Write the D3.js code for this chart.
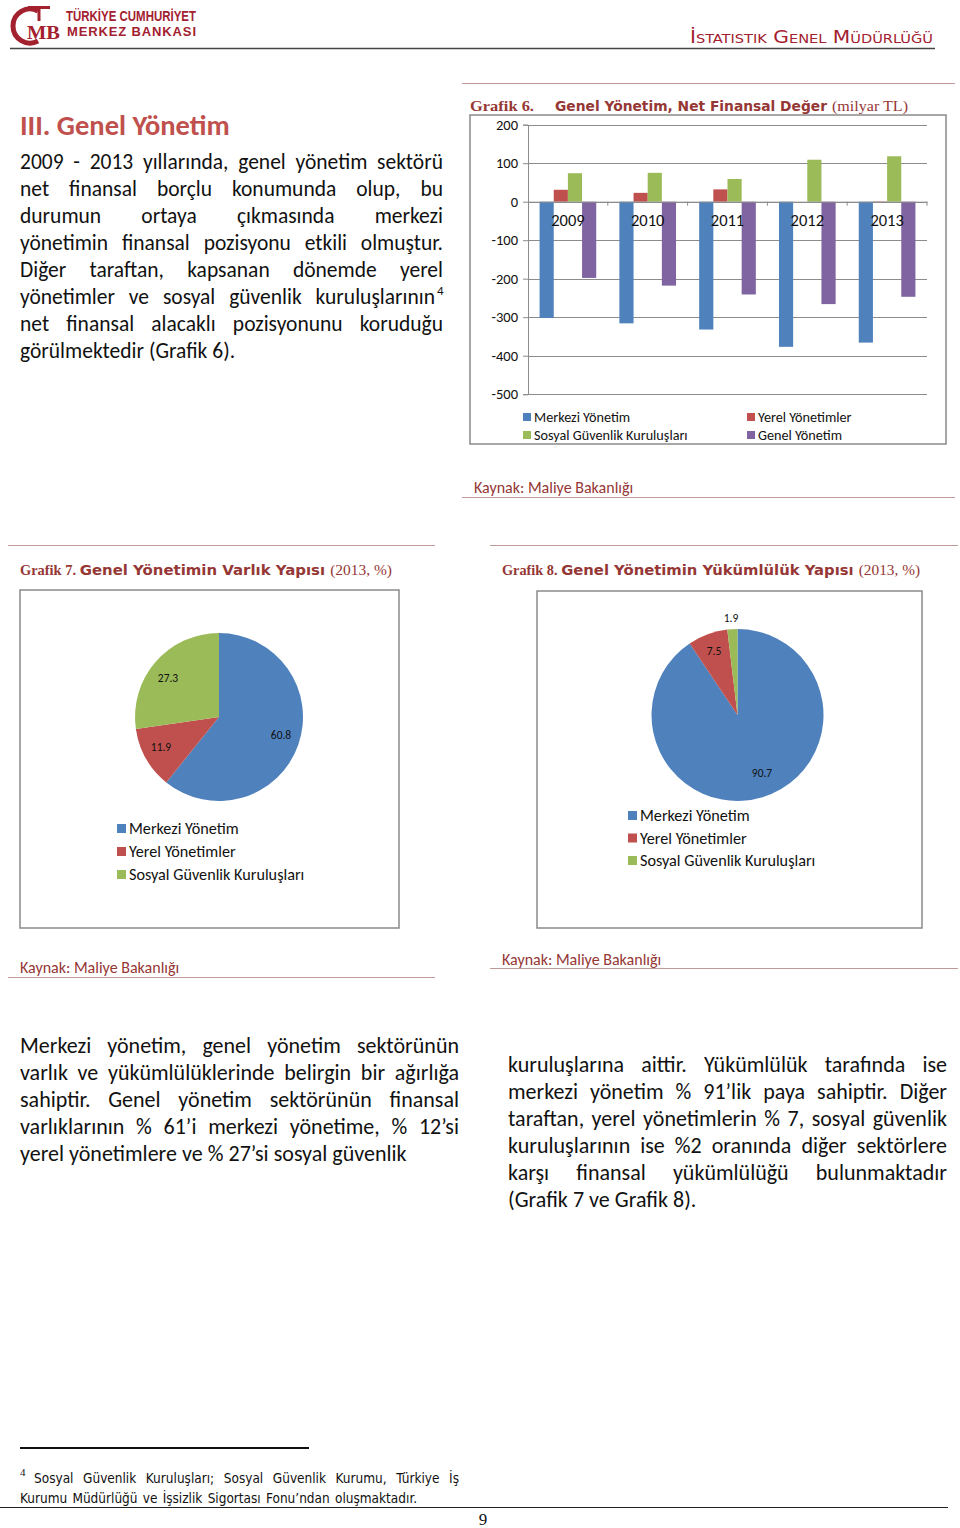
<!DOCTYPE html>
<html><head><meta charset="utf-8">
<script src="https://cdn.jsdelivr.net/npm/d3@7/dist/d3.min.js"></script>
<style>
html,body{margin:0;padding:0;background:#fff;}
svg{display:block;}
</style></head>
<body>
<svg id="page" width="960" height="1528"></svg>
<script>
// ---------------- DATA ----------------
const years = ["2009", "2010", "2011", "2012", "2013"];
const barSeries = ["Merkezi Yönetim", "Yerel Yönetimler", "Sosyal Güvenlik Kuruluşları", "Genel Yönetim"];
const merkezi = [-302, -316, -332, -377, -366];
const yerel = [31, 23, 32, 0, 1];
const sosyal = [74, 75, 59, 109, 118];
const genel = [-198, -218, -241, -266, -247];
const yTicks = [200, 100, 0, -100, -200, -300, -400, -500];

const pieSeries = ["Merkezi Yönetim", "Yerel Yönetimler", "Sosyal Güvenlik Kuruluşları"];
const varlik = [60.8, 11.9, 27.3];
const yukumluluk = [90.7, 7.5, 1.9];

const colors = ["#4F81BD", "#C0504D", "#9BBB59", "#8064A2"];

const para1 = [
  "2009 - 2013 yıllarında, genel yönetim sektörü",
  "net finansal borçlu konumunda olup, bu",
  "durumun ortaya çıkmasında merkezi",
  "yönetimin finansal pozisyonu etkili olmuştur.",
  "Diğer taraftan, kapsanan dönemde yerel",
  "yönetimler ve sosyal güvenlik kuruluşlarının",
  "net finansal alacaklı pozisyonunu koruduğu",
  "görülmektedir (Grafik 6)."
];
const para2 = [
  "Merkezi yönetim, genel yönetim sektörünün",
  "varlık ve yükümlülüklerinde belirgin bir ağırlığa",
  "sahiptir. Genel yönetim sektörünün finansal",
  "varlıklarının % 61’i merkezi yönetime, % 12’si",
  "yerel yönetimlere ve % 27’si sosyal güvenlik"
];
const para3 = [
  "kuruluşlarına aittir. Yükümlülük tarafında ise",
  "merkezi yönetim % 91’lik paya sahiptir. Diğer",
  "taraftan, yerel yönetimlerin % 7, sosyal güvenlik",
  "kuruluşlarının ise %2 oranında diğer sektörlere",
  "karşı finansal yükümlülüğü bulunmaktadır",
  "(Grafik 7 ve Grafik 8)."
];

// ---------------- HELPERS ----------------
const svg = d3.select("#page");
const BODY = "Carlito, 'Open Sans', 'Noto Sans', sans-serif";
const DARKRED = "#953735";
const RULE = "#c09a9a";

function line(x1, y1, x2, y2, stroke, w) {
  svg.append("line").attr("x1", x1).attr("y1", y1).attr("x2", x2).attr("y2", y2)
    .attr("stroke", stroke).attr("stroke-width", w || 1);
}

function textLine(str, x0, x1, y, size, justify, font, fill) {
  const g = svg.append("g");
  const words = str.split(" ");
  const nodes = words.map(w => g.append("text").attr("y", y)
    .attr("font-family", font || BODY).attr("font-size", size)
    .attr("fill", fill || "#111").text(w));
  const widths = nodes.map(n => n.node().getComputedTextLength());
  const sum = d3.sum(widths);
  const spaceW = size * 0.23;
  let gap = spaceW;
  if (justify && words.length > 1) gap = (x1 - x0 - sum) / (words.length - 1);
  let x = x0;
  nodes.forEach((n, i) => { n.attr("x", x); x += widths[i] + gap; });
  return g;
}

function paragraph(lines, x0, x1, y0, lh, size, lastJustify) {
  lines.forEach((l, i) => {
    const last = i === lines.length - 1;
    textLine(l, x0, x1, y0 + i * lh, size, !last || lastJustify);
  });
}

// ---------------- HEADER ----------------
const LOGO = "#a3212f";
const logo = svg.append("g");
logo.append("path").attr("d", "M38,11 A17,17 0 1,0 38,41").attr("fill", "none").attr("stroke", LOGO).attr("stroke-width", 5);
logo.append("rect").attr("x", 28).attr("y", 6).attr("width", 22).attr("height", 3).attr("fill", LOGO);
logo.append("rect").attr("x", 37.5).attr("y", 6).attr("width", 3).attr("height", 15).attr("fill", LOGO);
logo.append("text").attr("x", 27).attr("y", 39).attr("font-family", "'Liberation Serif', serif").attr("font-weight", "bold")
  .attr("font-size", 18).attr("fill", LOGO).attr("textLength", 33).attr("lengthAdjust", "spacingAndGlyphs").text("MB");
logo.append("text").attr("x", 66).attr("y", 21).attr("font-family", "'Liberation Sans Narrow', 'Liberation Sans', sans-serif")
  .attr("font-weight", "bold").attr("font-size", 14).attr("fill", LOGO)
  .attr("textLength", 130).attr("lengthAdjust", "spacingAndGlyphs").text("TÜRKİYE CUMHURİYET");
logo.append("text").attr("x", 67).attr("y", 36).attr("font-family", "'Liberation Sans Narrow', 'Liberation Sans', sans-serif")
  .attr("font-weight", "bold").attr("font-size", 13).attr("fill", LOGO)
  .attr("textLength", 129).attr("lengthAdjust", "spacing").text("MERKEZ BANKASI");

svg.append("text").attr("x", 690).attr("y", 43).attr("font-family", "'DejaVu Sans Condensed', 'DejaVu Sans', sans-serif")
  .attr("font-size", 18).attr("fill", LOGO).style("font-variant", "small-caps")
  .attr("textLength", 243).attr("lengthAdjust", "spacingAndGlyphs").text("İstatistik Genel Müdürlüğü");
line(10, 48.5, 935, 48.5, "#444", 1.5);

// ---------------- LEFT TEXT ----------------
svg.append("text").attr("x", 20).attr("y", 135).attr("font-family", BODY).attr("font-weight", "bold")
  .attr("font-size", 28.5).attr("fill", "#C0504D").text("III. Genel Yönetim");

const P1 = 21.5;
paragraph(para1.slice(0, 5), 20, 443, 169, 27, P1, true);
textLine(para1[5], 20, 435, 169 + 5 * 27, P1, true);
svg.append("text").attr("x", 437).attr("y", 295).attr("font-family", BODY).attr("font-size", 13).attr("fill", "#111").text("4");
textLine(para1[6], 20, 443, 169 + 6 * 27, P1, true);
textLine(para1[7], 20, 443, 169 + 7 * 27, P1, false);

// ---------------- GRAFIK 6 ----------------
line(462, 83.5, 955, 83.5, RULE, 1);
svg.append("text").attr("x", 470).attr("y", 111).attr("font-family", "'Liberation Serif', 'DejaVu Serif', serif").attr("font-weight", "bold")
  .attr("font-size", 14).attr("fill", DARKRED).attr("textLength", 64).attr("lengthAdjust", "spacingAndGlyphs").text("Grafik 6.");
svg.append("text").attr("x", 555).attr("y", 111).attr("font-family", "'DejaVu Sans', sans-serif").attr("font-weight", "bold")
  .attr("font-size", 14).attr("fill", DARKRED).attr("textLength", 272).attr("lengthAdjust", "spacingAndGlyphs").text("Genel Yönetim, Net Finansal Değer");
svg.append("text").attr("x", 832).attr("y", 111).attr("font-family", "'Liberation Serif', 'DejaVu Serif', serif")
  .attr("font-size", 14).attr("fill", DARKRED).attr("textLength", 76).attr("lengthAdjust", "spacingAndGlyphs").text("(milyar TL)");

svg.append("rect").attr("x", 470).attr("y", 115).attr("width", 476).attr("height", 329)
  .attr("fill", "#fff").attr("stroke", "#8a8a8a").attr("stroke-width", 1.5);

const yB = d3.scaleLinear().domain([-500, 200]).range([394.2, 124.7]);
const xB = d3.scaleBand().domain(years).range([528, 927]).paddingInner(0.29).paddingOuter(0.145);
const xS = d3.scaleBand().domain(barSeries).range([0, xB.bandwidth()]);

const gB = svg.append("g");
gB.selectAll("line.grid").data(yTicks).join("line").attr("class", "grid")
  .attr("x1", 528).attr("x2", 927).attr("y1", d => Math.round(yB(d)) + 0.5).attr("y2", d => Math.round(yB(d)) + 0.5)
  .attr("stroke", "#8c8c8c").attr("stroke-width", 1);
const yAxis = d3.axisLeft(yB).tickValues(yTicks).tickSize(5).tickFormat(d3.format("d"));
const yg = gB.append("g").attr("transform", "translate(528,0)").call(yAxis);
yg.select(".domain").attr("stroke", "#8c8c8c");
yg.selectAll(".tick line").attr("stroke", "#8c8c8c");
yg.selectAll(".tick text").attr("font-family", BODY).attr("font-size", 14.5).attr("fill", "#111").attr("x", -10);
yg.selectAll(".tick text").text(d => d3.format("d")(d).replace("−", "-"));

const barData = [merkezi, yerel, sosyal, genel];
barData.forEach((vals, si) => {
  gB.selectAll("rect.s" + si).data(vals).join("rect").attr("class", "s" + si)
    .attr("x", (d, i) => xB(years[i]) + xS(barSeries[si]))
    .attr("width", xS.bandwidth())
    .attr("y", d => yB(Math.max(0, d)))
    .attr("height", d => Math.abs(yB(d) - yB(0)))
    .attr("fill", colors[si]);
});
const step = xB.step();
const xAxis = d3.axisBottom(xB).tickSize(0).tickFormat(d => d);
const xg = gB.append("g").attr("transform", `translate(0,${yB(0)})`).call(xAxis);
xg.select(".domain").attr("stroke", "#8c8c8c");
xg.selectAll(".tick text").attr("font-family", BODY).attr("font-size", 16.5).attr("fill", "#111").attr("dy", "1.3em");
gB.selectAll("line.xt").data(d3.range(1, years.length + 1)).join("line").attr("class", "xt")
  .attr("x1", i => 528 + i * step).attr("x2", i => 528 + i * step)
  .attr("y1", yB(0)).attr("y2", yB(0) + 4).attr("stroke", "#8c8c8c");

const legPos = [[523, 417], [747, 417], [523, 435], [747, 435]];
barSeries.forEach((s, i) => {
  svg.append("rect").attr("x", legPos[i][0]).attr("y", legPos[i][1] - 4).attr("width", 8).attr("height", 8).attr("fill", colors[i]);
  svg.append("text").attr("x", legPos[i][0] + 11).attr("y", legPos[i][1] + 5).attr("font-family", BODY)
    .attr("font-size", 14.2).attr("fill", "#111").text(s);
});

svg.append("text").attr("x", 474).attr("y", 493).attr("font-family", BODY).attr("font-size", 16).attr("fill", DARKRED).text("Kaynak: Maliye Bakanlığı");
line(462, 497.5, 955, 497.5, RULE, 1);

// ---------------- PIE CHARTS ----------------
function pieChart(opts) {
  line(opts.rule[0], opts.ruleY, opts.rule[1], opts.ruleY, RULE, 1);
  const t = svg.append("text").attr("x", opts.titleX).attr("y", 575).attr("fill", DARKRED);
  t.append("tspan").attr("font-family", "'Liberation Serif', 'DejaVu Serif', serif").attr("font-weight", "bold")
    .attr("font-size", 14).text(opts.num + " ");
  t.append("tspan").attr("font-family", "'DejaVu Sans', sans-serif").attr("font-weight", "bold")
    .attr("font-size", 14.5).text(opts.title + " ");
  t.append("tspan").attr("font-family", "'Liberation Serif', 'DejaVu Serif', serif").attr("font-size", 15).text("(2013, %)");
  t.attr("textLength", opts.titleW).attr("lengthAdjust", "spacingAndGlyphs");

  svg.append("rect").attr("x", opts.box[0]).attr("y", opts.box[1]).attr("width", opts.box[2]).attr("height", opts.box[3])
    .attr("fill", "#fff").attr("stroke", "#8a8a8a").attr("stroke-width", 1.5);

  const pie = d3.pie().sort(null).value(d => d);
  const arc = d3.arc().innerRadius(0).outerRadius(opts.r);
  const g = svg.append("g").attr("transform", `translate(${opts.cx},${opts.cy})`);
  const arcs = pie(opts.values);
  g.selectAll("path").data(arcs).join("path").attr("d", arc).attr("fill", (d, i) => colors[i]);
  g.selectAll("text").data(arcs).join("text")
    .attr("x", (d, i) => opts.labelPos[i][0] - opts.cx)
    .attr("y", (d, i) => opts.labelPos[i][1] - opts.cy + 4)
    .attr("text-anchor", "middle").attr("font-family", BODY).attr("font-size", 11.5).attr("fill", "#111")
    .text(d => d.data.toFixed(1));

  pieSeries.forEach((s, i) => {
    const y = opts.legY + i * opts.legDy;
    svg.append("rect").attr("x", opts.legX).attr("y", y - 4).attr("width", 9).attr("height", 9).attr("fill", colors[i]);
    svg.append("text").attr("x", opts.legX + 12).attr("y", y + 6).attr("font-family", BODY).attr("font-size", 16.2)
      .attr("fill", "#111").text(s);
  });

  svg.append("text").attr("x", opts.srcX).attr("y", opts.srcY).attr("font-family", BODY).attr("font-size", 16)
    .attr("fill", DARKRED).text("Kaynak: Maliye Bakanlığı");
  line(opts.rule[0], opts.srcRuleY, opts.rule[1], opts.srcRuleY, RULE, 1);
}

pieChart({
  rule: [8, 435], ruleY: 545.5, titleX: 20, titleW: 372,
  num: "Grafik 7.", title: "Genel Yönetimin Varlık Yapısı",
  box: [20, 590, 379, 338], cx: 219, cy: 717, r: 84, values: varlik,
  labelPos: [[281, 735], [161, 747], [168, 678]],
  legX: 117, legY: 828, legDy: 23,
  srcX: 20, srcY: 973, srcRuleY: 977.5
});
pieChart({
  rule: [490, 958], ruleY: 545.5, titleX: 502, titleW: 418,
  num: "Grafik 8.", title: "Genel Yönetimin Yükümlülük Yapısı",
  box: [537, 591, 385, 337], cx: 737.5, cy: 715, r: 86, values: yukumluluk,
  labelPos: [[762, 773], [714, 651], [731, 618]],
  legX: 628, legY: 815, legDy: 22.5,
  srcX: 502, srcY: 965, srcRuleY: 968.5
});

// ---------------- BOTTOM TEXT ----------------
const P2 = 22;
paragraph(para2, 20, 459, 1053, 27, P2, false);
paragraph(para3.slice(0, 5), 508, 947, 1072, 27, P2, true);
textLine(para3[5], 508, 947, 1072 + 5 * 27, P2, false);

// ---------------- FOOTNOTE ----------------
line(20, 1448, 309, 1448, "#111", 2);
const FN = "'DejaVu Sans Condensed', 'DejaVu Sans', sans-serif";
svg.append("text").attr("x", 20).attr("y", 1476).attr("font-family", "'Liberation Serif', serif").attr("font-size", 11).attr("fill", "#111").text("4");
textLine("Sosyal Güvenlik Kuruluşları; Sosyal Güvenlik Kurumu, Türkiye İş", 34, 459, 1483, 13.5, true, FN);
textLine("Kurumu Müdürlüğü ve İşsizlik Sigortası Fonu’ndan oluşmaktadır.", 20, 417, 1503, 13.5, true, FN);
line(0, 1507.5, 948, 1507.5, "#222", 1);
svg.append("text").attr("x", 483).attr("y", 1525).attr("text-anchor", "middle").attr("font-family", "'Liberation Serif', serif")
  .attr("font-size", 17).attr("fill", "#111").text("9");
</script>
</body></html>
